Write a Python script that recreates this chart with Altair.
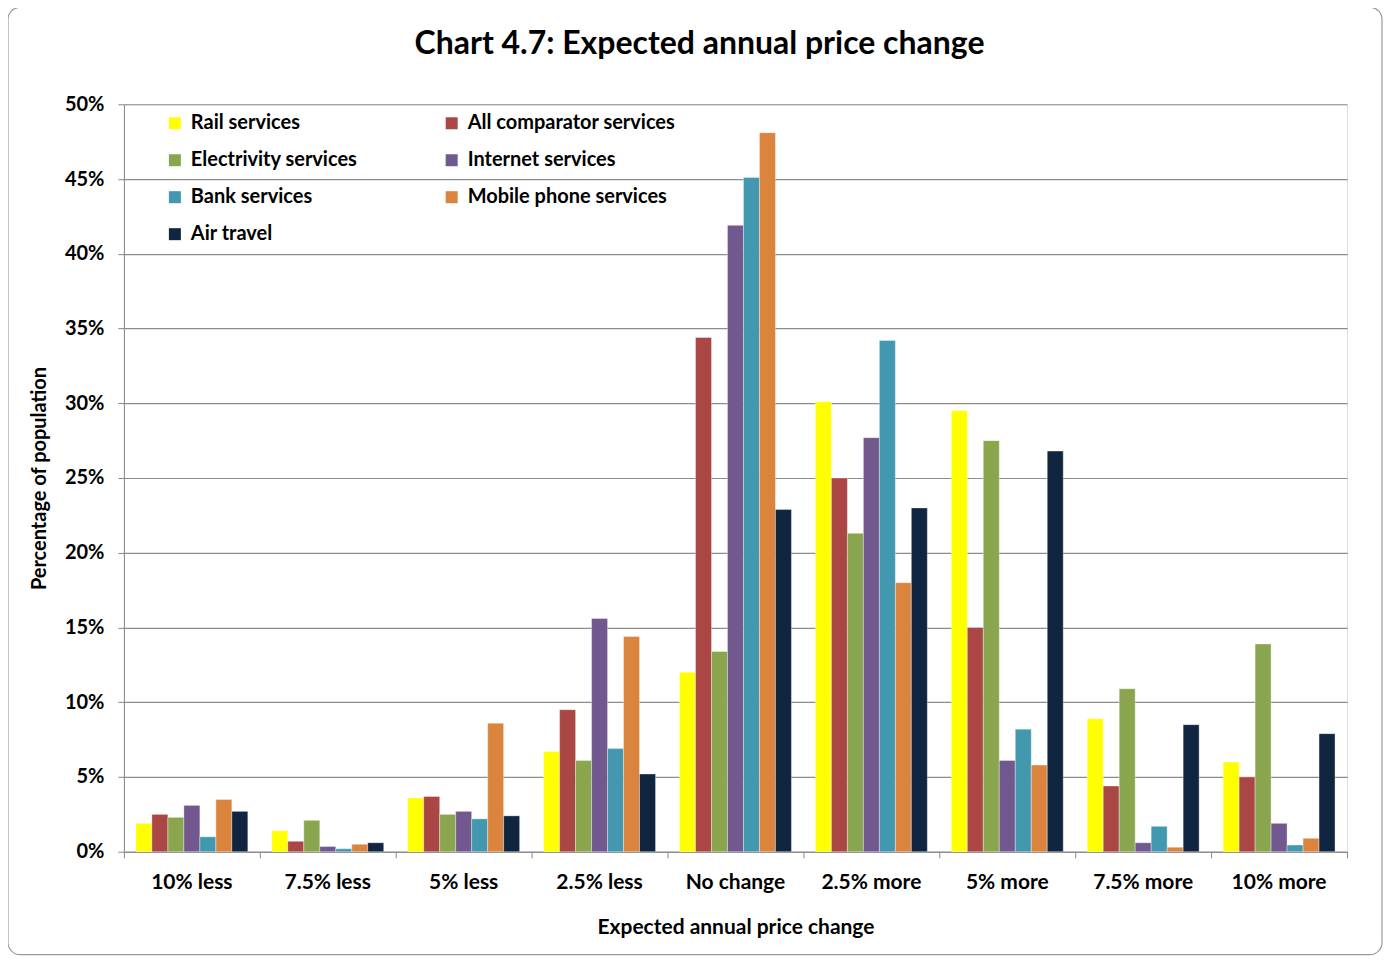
import altair as alt
import pandas as pd

categories = ["10% less", "7.5% less", "5% less", "2.5% less", "No change",
              "2.5% more", "5% more", "7.5% more", "10% more"]
series = ["Rail services", "All comparator services", "Electrivity services",
          "Internet services", "Bank services", "Mobile phone services", "Air travel"]
colors = ["#FFFF00", "#AA4643", "#89A54E", "#71588F", "#4198AF", "#DB843D", "#10253F"]

rail = [1.9, 1.4, 3.6, 6.7, 12.0, 30.1, 29.5, 8.9, 6.0]
all_comp = [2.5, 0.7, 3.7, 9.5, 34.4, 25.0, 15.0, 4.4, 5.0]
electricity = [2.3, 2.1, 2.5, 6.1, 13.4, 21.3, 27.5, 10.9, 13.9]
internet = [3.1, 0.35, 2.7, 15.6, 41.9, 27.7, 6.1, 0.6, 1.9]
bank = [1.0, 0.2, 2.2, 6.9, 45.1, 34.2, 8.2, 1.7, 0.45]
mobile = [3.5, 0.5, 8.6, 14.4, 48.1, 18.0, 5.8, 0.3, 0.9]
air = [2.7, 0.6, 2.4, 5.2, 22.9, 23.0, 26.8, 8.5, 7.9]

y_ticks = [0, 0.05, 0.10, 0.15, 0.20, 0.25, 0.30, 0.35, 0.40, 0.45, 0.50]

all_values = [rail, all_comp, electricity, internet, bank, mobile, air]
rows = []
for s, vals in zip(series, all_values):
    for c, v in zip(categories, vals):
        rows.append({"Category": c, "Series": s, "Value": v / 100.0})
df = pd.DataFrame(rows)

FONT = "Lato"
W, H = 1224, 748

bars = alt.Chart(df).mark_bar(stroke="white", strokeWidth=0.6, strokeOpacity=0.6).encode(
    x=alt.X("Category:N", sort=categories,
            scale=alt.Scale(paddingInner=0, paddingOuter=0),
            axis=alt.Axis(title="Expected annual price change", labelAngle=0,
                          bandPosition=1, tickExtra=True, tickSize=6,
                          tickColor="#868686", domainColor="#868686",
                          labelFont=FONT, labelFontSize=21, labelFontWeight="bold",
                          labelColor="black", labelPadding=14,
                          titleFont=FONT, titleFontSize=21, titleFontWeight="bold",
                          titleColor="black", titlePadding=24, grid=False)),
    xOffset=alt.XOffset("Series:N", sort=series,
                        scale=alt.Scale(paddingInner=0, paddingOuter=0.75)),
    y=alt.Y("Value:Q", scale=alt.Scale(domain=[0, 0.5], nice=False),
            axis=alt.Axis(title="Percentage of population", format=".0%", values=y_ticks,
                          tickSize=6, tickColor="#868686", domainColor="#868686",
                          gridColor="#8C8C8C", gridWidth=1.2,
                          labelFont=FONT, labelFontSize=20, labelFontWeight="bold",
                          labelColor="black", labelPadding=14,
                          titleFont=FONT, titleFontSize=20, titleFontWeight="bold",
                          titleColor="black", titlePadding=15)),
    color=alt.Color("Series:N", sort=series,
                    scale=alt.Scale(domain=series, range=colors),
                    legend=alt.Legend(title=None, orient="none", legendX=41, legendY=9,
                                      direction="horizontal",
                                      columns=2, columnPadding=84, rowPadding=17,
                                      symbolType="square", symbolSize=144,
                                      symbolStrokeWidth=0, symbolOffset=0,
                                      labelFont=FONT, labelFontSize=20,
                                      labelFontWeight="bold", labelColor="black",
                                      labelOffset=6, labelLimit=400)),
)

frame = alt.Chart(pd.DataFrame({"a": [0]})).mark_rect(
    fill=None, stroke="#9A9A9A", strokeWidth=1.2, cornerRadius=12
).encode(x=alt.value(-116), x2=alt.value(1259), y=alt.value(-97), y2=alt.value(851))

chart = alt.layer(frame, bars).properties(
    width=W, height=H,
    title=alt.TitleParams("Chart 4.7: Expected annual price change", font=FONT,
                          fontSize=32, fontWeight="bold", color="black",
                          anchor="middle", frame="group", dx=-36, offset=-54),
    autosize=alt.AutoSizeParams(type="none"),
    padding={"left": 116, "top": 96, "right": 36, "bottom": 104},
).configure_view(stroke=None).configure(background="white")

chart.save("out.html", embed_options={"renderer": "svg", "actions": False})
